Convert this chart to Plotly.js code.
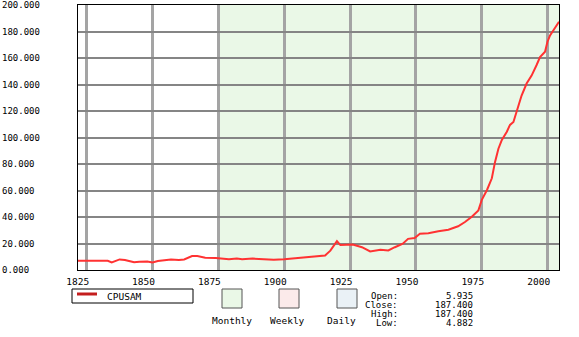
<!DOCTYPE html>
<html><head><meta charset="utf-8">
<script src="https://cdn.plot.ly/plotly-3.0.1.min.js"></script>
<style>html,body{margin:0;padding:0;background:#fff;}#chart{width:579px;height:337px;}</style>
</head><body><div id="chart"></div>
<script>
// ---- data ----
const years = [1821.7,1826,1833,1834.5,1837.5,1839.5,1843,1845,1848,1850,1852,1857,1860,1862,1865,1867,1870,1874,1876,1879,1882,1884,1888,1892,1896,1900,1905,1908,1912,1915.5,1917.5,1919,1920,1921.3,1924,1926,1929.5,1932.6,1936.5,1939.5,1942,1945,1947,1949.5,1951.5,1954.7,1958.5,1962.3,1966,1968.6,1971.2,1973.7,1975,1977,1978.8,1980,1981.3,1982.6,1984.5,1985.7,1987,1988.2,1990.1,1992,1993.9,1995.8,1997.1,1999,1999.9,2000.9,2002.1,2003.4,2004.3];
const cpusam = [7.0,7.0,7.0,5.8,8.0,7.6,5.8,6.2,6.4,5.6,6.8,8.0,7.6,8.0,10.5,10.5,9.3,9.0,8.6,8.2,8.6,8.2,8.6,8.2,7.8,8.2,9.0,9.5,10.2,11.0,14.6,19.2,21.8,18.8,18.8,19.2,17.2,14.0,15.2,14.8,17.2,19.8,23.5,24.2,27.3,27.8,29.2,30.4,33.0,36.2,40.2,45.0,53.0,60.6,69.2,81.4,91.5,98.2,104.4,109.5,111.7,119.4,131.7,140.7,146.7,154.7,160.7,164.7,172.1,177.1,180.7,184.7,187.4];
const seriesName = "CPUSAM";
const xTickVals = [1825,1850,1875,1900,1925,1950,1975,2000];
const xTickText = ["1825","1850","1875","1900","1925","1950","1975","2000"];
const yTickVals = [0,20,40,60,80,100,120,140,160,180,200];
const yTickText = ["0.000","20.000","40.000","60.000","80.000","100.000","120.000","140.000","160.000","180.000","200.000"];
const monthlyStart = 1875;
const statLabels = ["Open:","Close:","High:","Low:"];
const statValues = ["5.935","187.400","187.400","4.882"];
const periodLabels = ["Monthly","Weekly","Daily"];
const xRange = [1821.7, 2004.3];
const yRange = [0, 200];

// ---- layout helpers (pixel -> paper) ----
const L = 78, T = 5, W = 481, H = 265;
const px = x => (x - L) / W;
const py = y => (T + H - y) / H;
const FONT = "DejaVu Sans Mono";

const shapes = [
  {type:'rect', xref:'x', yref:'paper', x0:monthlyStart, x1:xRange[1], y0:0, y1:1,
   fillcolor:'#eaf8e7', line:{width:0}, layer:'below'},
  // legend box
  {type:'rect', xref:'paper', yref:'paper', x0:px(72), x1:px(193), y0:py(289), y1:py(303),
   fillcolor:'#ffffff', line:{color:'#000', width:1}},
  {type:'line', xref:'paper', yref:'paper', x0:px(77), x1:px(97), y0:py(294), y1:py(294),
   line:{color:'#c41e1e', width:3}},
  // period boxes
  {type:'rect', xref:'paper', yref:'paper', x0:px(222), x1:px(242), y0:py(289), y1:py(308),
   fillcolor:'#eaf8e7', line:{color:'#555', width:1}},
  {type:'rect', xref:'paper', yref:'paper', x0:px(279), x1:px(299), y0:py(289), y1:py(308),
   fillcolor:'#fbeaea', line:{color:'#555', width:1}},
  {type:'rect', xref:'paper', yref:'paper', x0:px(337), x1:px(357), y0:py(289), y1:py(308),
   fillcolor:'#eaf1f6', line:{color:'#555', width:1}}
];

const annotations = [];
yTickVals.forEach((v,i) => annotations.push({
  xref:'paper', yref:'y', x:px(0), y:v, xanchor:'left', yanchor:'middle',
  text:yTickText[i], showarrow:false, font:{family:FONT, size:9, color:'#000'}
}));
annotations.push({xref:'paper', yref:'paper', x:px(105), y:py(296), xanchor:'left', yanchor:'middle',
  text:seriesName, showarrow:false, font:{family:FONT, size:9.5, color:'#000'}});
const periodX = [232, 287, 341];
periodLabels.forEach((t,i) => annotations.push({
  xref:'paper', yref:'paper', x:px(periodX[i]), y:py(320), xanchor:'center', yanchor:'middle',
  text:t, showarrow:false, font:{family:FONT, size:9.5, color:'#000'}
}));
const rowY = [295.5, 304.5, 313.5, 322.5];
statLabels.forEach((t,i) => {
  annotations.push({xref:'paper', yref:'paper', x:px(400), y:py(rowY[i]), xanchor:'right', yanchor:'middle',
    text:t, showarrow:false, font:{family:FONT, size:9, color:'#000'}});
  annotations.push({xref:'paper', yref:'paper', x:px(475), y:py(rowY[i]), xanchor:'right', yanchor:'middle',
    text:statValues[i], showarrow:false, font:{family:FONT, size:9, color:'#000'}});
});

const data = [{
  x: years, y: cpusam, type:'scatter', mode:'lines', name:seriesName,
  line:{color:'#ff3232', width:2}, hoverinfo:'skip'
}];

const layout = {
  width:579, height:337,
  margin:{l:L, r:579-L-W, t:T, b:337-T-H, pad:0},
  paper_bgcolor:'#ffffff', plot_bgcolor:'#ffffff',
  showlegend:false,
  xaxis:{range:xRange, tickvals:xTickVals, ticktext:xTickText, showgrid:true,
    gridcolor:'#a4a4a4', gridwidth:3, zeroline:false, showline:true, mirror:true,
    linecolor:'#000', linewidth:1, ticks:'outside', ticklen:3, tickcolor:'rgba(0,0,0,0)',
    ticklabelshift:-9, tickfont:{family:FONT, size:9.5, color:'#000'}, fixedrange:true},
  yaxis:{range:yRange, tickvals:yTickVals, showticklabels:false, showgrid:true,
    gridcolor:'#858585', gridwidth:2, zeroline:false, showline:true, mirror:true,
    linecolor:'#000', linewidth:1, ticks:'', fixedrange:true},
  shapes: shapes,
  annotations: annotations
};

Plotly.newPlot('chart', data, layout, {displayModeBar:false, staticPlot:true});
</script></body></html>
